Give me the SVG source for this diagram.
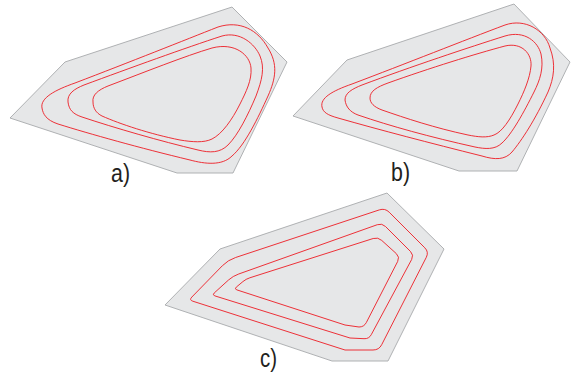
<svg xmlns="http://www.w3.org/2000/svg" width="572" height="374" viewBox="0 0 572 374">
<style>
.plate{fill:#e6e7e8;stroke:#a7a9ac;stroke-width:0.9}
.ct{fill:none;stroke:#ed1c24;stroke-width:0.9}
.lbl{font-family:"Liberation Sans",Arial,sans-serif;font-size:25px;fill:#231f20}
</style>
<rect width="572" height="374" fill="#ffffff"/>
<g id="panel-a">
<polygon class="plate" points="65,62 232,7 287,62 233,173 177,173 10,118"/>
<path class="ct" d="M42,108 C40,98 55,90 75,83 C130,62 185,40 218,27 C240,20 258,30 268,48 C278,64 276,78 268,96 C258,118 245,145 232,156 C222,166 205,164 190,160 C140,148 90,134 58,124 C46,120 43,114 42,108 Z"/>
<path class="ct" d="M68,102 C67,94 74,89 84,85 C130,68 185,48 222,36 C240,31 255,44 260,56 C265,68 262,80 256,96 C248,115 238,135 228,145 C220,153 210,153 198,150 C160,141 115,128 82,117 C73,114 69,110 68,102 Z"/>
<path class="ct" d="M93,102 C92,95 98,90 108,86 C145,72 185,56 212,48 C235,42 250,55 251,68 C252,80 246,92 240,104 C232,120 222,134 212,139 C204,143 192,142 180,140 C150,134 120,124 102,116 C96,113 93,108 93,102 Z"/>
<text class="lbl" x="111" y="182" textLength="19" lengthAdjust="spacingAndGlyphs">a)</text>
</g>
<g id="panel-b">
<polygon class="plate" points="347,60 514,4 570,62 517,171 459,171 293,116"/>
<path class="ct" d="M322,107 C320,98 332,91 352,84 C405,64 465,40 505,25 C525,18 545,30 550,48 C556,64 554,78 548,92 C535,120 522,140 512,152 C505,160 495,160 482,156 C430,143 380,130 338,118 C327,115 323,112 322,107 Z"/>
<path class="ct" d="M345,100 C345,93 352,89 362,85 C410,67 470,47 505,36 C525,30 538,42 541,54 C544,68 540,80 534,92 C524,112 512,134 502,143 C495,150 485,149 475,147 C430,137 390,126 358,115 C350,112 346,107 345,100 Z"/>
<path class="ct" d="M370,98 C370,91 377,87 388,83 C430,68 475,54 505,46 C522,42 532,54 531,66 C530,78 524,92 518,104 C510,120 502,132 494,135 C487,138 478,137 468,135 C435,128 405,118 382,110 C374,107 370,103 370,98 Z"/>
<text class="lbl" x="391" y="181" textLength="19" lengthAdjust="spacingAndGlyphs">b)</text>
</g>
<g id="panel-c">
<polygon class="plate" points="220,249 387,193 444,249 388,361 332,361 165,305"/>
<path class="ct" d="M192.8,301.2 Q189,300 191.8,297.1 L222.4,265.7 Q228,260 235.6,257.5 L379.3,209.9 Q385,208 389.2,212.2 L424.8,247.8 Q429,252 426.3,257.3 L381.7,344.7 Q379,350 373,350 L345,350 L192.8,301.2 Z"/>
<path class="ct" d="M214.9,295.9 Q212,295 214.2,293 L228.5,280 Q233,276 238.7,274 L377.3,224.7 Q382,223 385.5,226.5 L410.5,251.5 Q414,255 411.7,259.4 L371.3,334.6 Q369,339 364,338.7 L350,338 L214.9,295.9 Z"/>
<path class="ct" d="M236.9,289.9 Q234,289 236.3,287.1 L242.9,281.6 Q246,279 249.8,277.8 L373.2,238.5 Q378,237 381.7,240.4 L396.3,253.6 Q400,257 397.7,261.4 L366.3,322.6 Q364,327 359,327 L345,325 L236.9,289.9 Z"/>
<text class="lbl" x="260" y="367" textLength="17" lengthAdjust="spacingAndGlyphs">c)</text>
</g>
</svg>
